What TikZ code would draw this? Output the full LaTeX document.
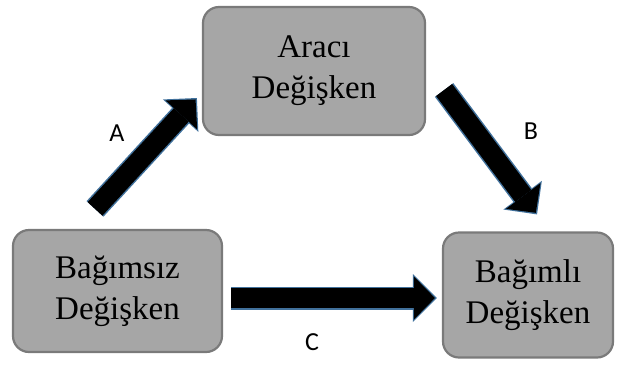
\documentclass[tikz,border=0pt]{standalone}
\usepackage{fontspec}
\setmainfont{Liberation Serif}
\newfontfamily\labelfont{Carlito}
\usetikzlibrary{arrows.meta}
\usetikzlibrary{positioning}
\definecolor{box_fill}{HTML}{A6A6A6}
\definecolor{box_edge}{HTML}{7A7A7A}
\definecolor{edge_blue}{HTML}{41719C}
\tikzstyle{gray_box} = [
    rectangle, 
    rounded corners=16pt, 
    draw=box_edge, 
    fill=box_fill, 
    line width=2.2pt, 
    align=center, 
    inner sep=0pt, 
    font=\fontsize{33}{41}\selectfont
]
\tikzstyle{fat_arrow} = [
    black, 
    line width=20pt, 
    -{Triangle[length=21pt, width=43pt, line width=0pt]}, 
    shorten >=2pt, 
    preaction={
        draw=edge_blue, 
        line width=23pt, 
        shorten >=0pt, 
        -{Triangle[length=24pt, width=48pt, line width=0pt]}
    }
]
\tikzstyle{path_label} = [
    font=\labelfont\fontsize{26}{30}\selectfont
]

\begin{document}
\begin{tikzpicture}[x=1pt, y=-1pt]
\useasboundingbox (0,0) rectangle (620,365);
% the three variables
\node [gray_box, minimum width=222pt, minimum height=128pt] (araci) at (314,71) {Aracı\\Değişken};
\node [gray_box, minimum width=209pt, minimum height=122pt] (bagimsiz) at (117.5,291) {Bağımsız\\Değişken};
\node [gray_box, minimum width=170pt, minimum height=125pt] (bagimli) at (528,295) {Bağımlı\\Değişken};
% paths
\draw [fat_arrow] ([xshift=-22.5pt, yshift=20pt]bagimsiz.north) -- ([xshift=-5pt, yshift=-27pt]araci.west);
\draw [fat_arrow] ([xshift=18pt, yshift=-19pt]araci.east) -- ([xshift=9pt, yshift=17pt]bagimli.north);
\draw [fat_arrow] ([xshift=8pt, yshift=-7pt]bagimsiz.east) -- ([xshift=-5pt, yshift=-3pt]bagimli.west);
% labels
\node [path_label] (lbl_a) at (117,133) {A};
\node [path_label] (lbl_b) at (531,131) {B};
\node [path_label] (lbl_c) at (312,342) {C};
\end{tikzpicture}
\end{document}
